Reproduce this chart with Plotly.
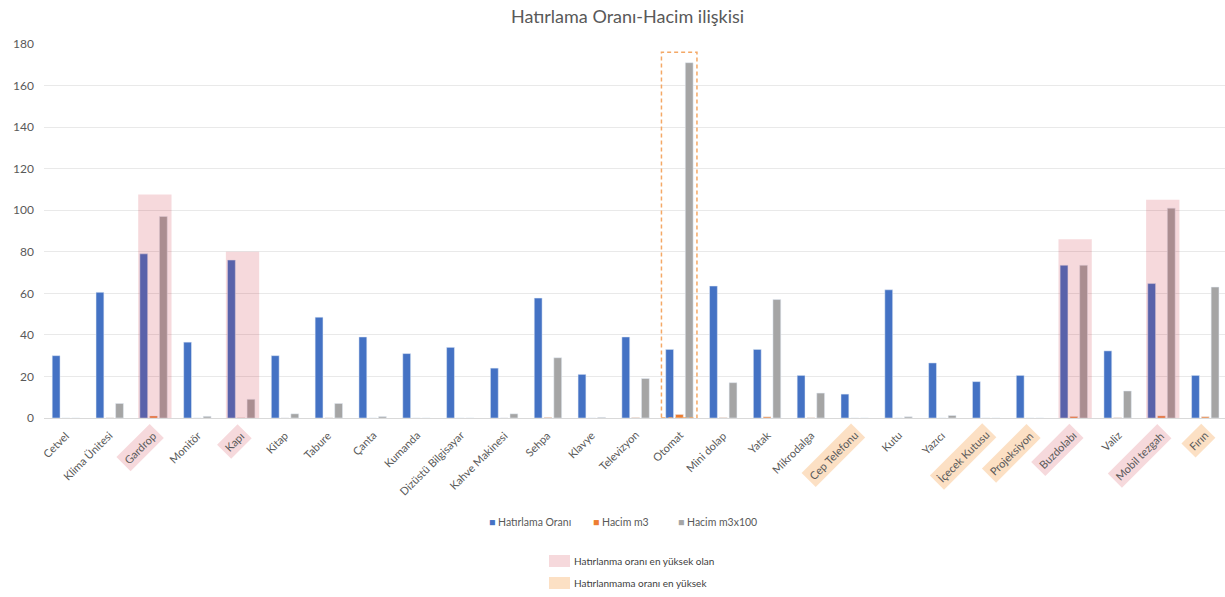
import plotly.graph_objects as go

# ---- data -------------------------------------------------------------
esyalar = ["Cetvel", "Klima Ünitesi", "Gardrop", "Monitör", "Kapı", "Kitap", "Tabure",
           "Çanta", "Kumanda", "Dizüstü Bilgisayar", "Kahve Makinesi", "Sehpa", "Klavye",
           "Televizyon", "Otomat", "Mini dolap", "Yatak", "Mikrodalga", "Cep Telefonu",
           "Kutu", "Yazıcı", "İçecek Kutusu", "Projeksiyon", "Buzdolabı", "Valiz",
           "Mobil tezgah", "Fırın"]

hatirlama_orani = [30, 60.5, 79, 36.5, 76, 30, 48.5, 39, 31, 34, 24, 57.7, 21, 39, 33,
                   63.5, 33, 20.5, 11.5, 61.7, 26.5, 17.5, 20.5, 73.5, 32.3, 64.7, 20.5]

hacim_m3 = [0, 0.07, 0.97, 0.008, 0.09, 0.02, 0.07, 0.007, 0, 0, 0.02, 0.29, 0.003,
            0.19, 1.71, 0.17, 0.57, 0.12, 0, 0.006, 0.012, 0, 0, 0.735, 0.13, 1.01, 0.63]

hacim_m3x100 = [0, 7, 97, 0.8, 9, 2, 7, 0.7, 0, 0, 2, 29, 0.3, 19, 171, 17, 57, 12, 0,
                0.6, 1.2, 0, 0, 73.5, 13, 101, 63]

seri_adlari = ["Hatırlama Oranı", "Hacim m3", "Hacim m3x100"]

# highlighted groups
yuksek_hatirlanan = ["Gardrop", "Kapı", "Buzdolabı", "Mobil tezgah"]
yuksek_hatirlanan_ust = [107.6, 80, 86, 105]
yuksek_hatirlanmayan = ["Cep Telefonu", "İçecek Kutusu", "Projeksiyon", "Fırın"]
en_buyuk_hacim = "Otomat"
en_buyuk_hacim_ust = 176

y_ticks = [0, 20, 40, 60, 80, 100, 120, 140, 160, 180]

# ---- styling ------------------------------------------------------------
W, H = 1225, 597
ML, MR, MT, MB = 44, 0, 44, 179
PW, PH = W - ML - MR, H - MT - MB
FONT = "Lato"
TXT = "#595959"
PINK = "rgba(200,20,40,0.16)"
PEACH = "rgba(245,160,70,0.32)"
COLORS = ["#4472C4", "#ED7D31", "#A5A5A5"]


def px_x(px):
    return (px - ML) / PW


def px_y(py):
    return (MT + PH - py) / PH


idx = list(range(len(esyalar)))

fig = go.Figure()
for name, values, color in zip(seri_adlari, [hatirlama_orani, hacim_m3, hacim_m3x100], COLORS):
    fig.add_trace(go.Bar(x=idx, y=values, name=name, marker_color=color, showlegend=False))

shapes = []
# translucent boxes over the most remembered items
for name, top in zip(yuksek_hatirlanan, yuksek_hatirlanan_ust):
    i = esyalar.index(name)
    shapes.append(dict(type="rect", xref="x", yref="y", x0=i - 0.35, x1=i + 0.41,
                       y0=0, y1=top, fillcolor=PINK, line_width=0, layer="above"))
# dashed outline around the largest volume
i = esyalar.index(en_buyuk_hacim)
shapes.append(dict(type="rect", xref="x", yref="y", x0=i - 0.41, x1=i + 0.40,
                   y0=0, y1=en_buyuk_hacim_ust, fillcolor="rgba(0,0,0,0)",
                   line=dict(color="#F4A866", width=1.5, dash="4px,3px"), layer="above"))

# rotated category labels, with a tinted background for the highlighted ones
annotations = []
for i, name in enumerate(esyalar):
    if name in yuksek_hatirlanan:
        bg = PINK
    elif name in yuksek_hatirlanmayan:
        bg = PEACH
    else:
        bg = "rgba(0,0,0,0)"
    annotations.append(dict(x=i, xref="x", y=0, yref="paper", text=name, showarrow=False,
                            textangle=-45, xanchor="right", yanchor="top",
                            xshift=11, yshift=-5, bgcolor=bg, borderpad=3,
                            font=dict(family=FONT, size=11, color=TXT)))

# series key
for name, color, left in zip(seri_adlari, COLORS, [487, 591, 676]):
    annotations.append(dict(x=px_x(left), xref="paper", y=px_y(522), yref="paper",
                            text=f"<span style='color:{color}'>■</span> {name}",
                            showarrow=False, xanchor="left", yanchor="middle",
                            font=dict(family=FONT, size=10.5, color=TXT)))

# secondary key for the highlight colours
key_items = [(PINK, "Hatırlanma oranı en yüksek olan", 561),
             (PEACH, "Hatırlanmama oranı en yüksek", 583)]
for color, label, cy in key_items:
    shapes.append(dict(type="rect", xref="paper", yref="paper",
                       x0=px_x(549), x1=px_x(570), y0=px_y(cy + 6), y1=px_y(cy - 6),
                       fillcolor=color, line_width=0))
    annotations.append(dict(x=px_x(572), xref="paper", y=px_y(cy), yref="paper",
                            text=label, showarrow=False, xanchor="left", yanchor="middle",
                            font=dict(family=FONT, size=10, color="#404040")))

fig.update_layout(
    width=W, height=H,
    margin=dict(l=ML, r=MR, t=MT, b=MB),
    paper_bgcolor="white", plot_bgcolor="white",
    barmode="group", bargap=0.33, bargroupgap=0.2,
    font=dict(family=FONT, color=TXT),
    title=dict(text="Hatırlama Oranı-Hacim ilişkisi", x=px_x(627.5), xanchor="center",
               xref="paper", y=1 - 17 / H, yanchor="middle",
               font=dict(family=FONT, size=18, color=TXT)),
    shapes=shapes,
    annotations=annotations,
    showlegend=False,
)
fig.update_xaxes(range=[-0.5, len(esyalar) - 0.55], tickvals=idx, showticklabels=False,
                 showgrid=False, showline=True, linecolor="#d9d9d9", zeroline=False,
                 ticks="")
fig.update_yaxes(range=[0, 180], tickvals=y_ticks, showgrid=True, gridcolor="#e9e9e9",
                 zeroline=False, tickfont=dict(family=FONT, size=12, color=TXT),
                 ticks="", showline=False, ticklabelstandoff=9)

fig.write_html("out.html")
